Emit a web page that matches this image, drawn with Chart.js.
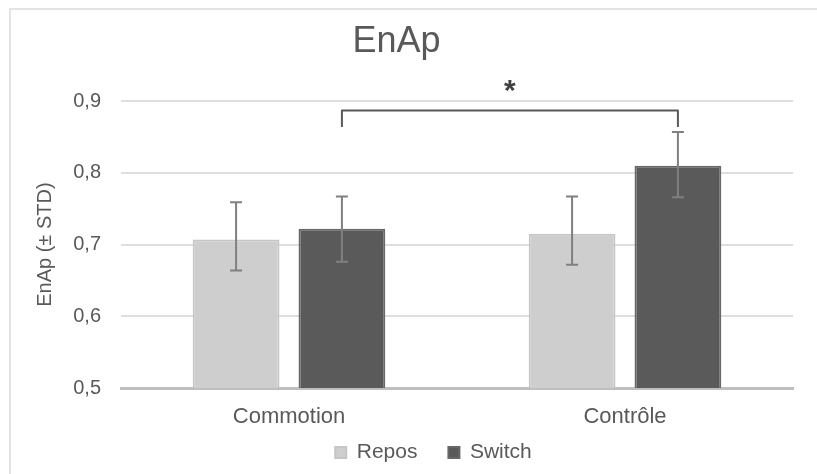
<!DOCTYPE html>
<html>
<head>
<meta charset="utf-8">
<script src="https://cdn.jsdelivr.net/npm/chart.js@4.4.1/dist/chart.umd.min.js"></script>
<style>
  body { margin: 0; background: #fff; }
  #wrap { position: relative; width: 817px; height: 474px; overflow: hidden; }
  #cadre { position: absolute; left: 9px; top: 8px; width: 900px; height: 600px; border: 2px solid #e3e3e3; }
  canvas { position: absolute; left: 0; top: 0; }
</style>
</head>
<body>
<div id="wrap">
  <div id="cadre"></div>
  <canvas id="graphique" width="817" height="474"></canvas>
</div>
<script>
const categories = ['Commotion', 'Contrôle'];
const repos = [0.707, 0.715];
const reposPlus = [0.052, 0.052];
const reposMoins = [0.043, 0.043];
const switchVals = [0.722, 0.810];
const switchPlus = [0.045, 0.047];
const switchMoins = [0.046, 0.044];
const yTickLabels = ['0,5', '0,6', '0,7', '0,8', '0,9'];
// accolade de significativité entre les deux "Switch"
const niveauAccolade = 0.887;
const basAccolade = 0.864;
const niveauEtoile = 0.918;

const police = "'Liberation Sans', Arial, sans-serif";
const gris = '#595959';

const barresErreur = {
  id: 'barresErreur',
  afterLayout(chart) {
    // la légende est décalée vers la droite dans l'original
    chart.legend.left += 37;
    chart.legend.right += 37;
    // l'axe x est plus bas que sa boite : sinon les étiquettes sont coupées
    chart.scales.x.bottom += 40;
  },
  afterDatasetsDraw(chart) {
    const ctx = chart.ctx;
    const y = chart.scales.y;
    const plus = [reposPlus, switchPlus];
    const moins = [reposMoins, switchMoins];
    ctx.save();
    ctx.strokeStyle = '#808080';
    ctx.lineWidth = 2;
    chart.data.datasets.forEach((ds, d) => {
      chart.getDatasetMeta(d).data.forEach((barre, i) => {
        const haut = y.getPixelForValue(ds.data[i] + plus[d][i]);
        const bas = y.getPixelForValue(ds.data[i] - moins[d][i]);
        ctx.beginPath();
        ctx.moveTo(barre.x, haut);
        ctx.lineTo(barre.x, bas);
        ctx.moveTo(barre.x - 6, haut);
        ctx.lineTo(barre.x + 6, haut);
        ctx.moveTo(barre.x - 6, bas);
        ctx.lineTo(barre.x + 6, bas);
        ctx.stroke();
      });
    });

    // accolade
    const sw = chart.getDatasetMeta(1).data;
    const x1 = sw[0].x, x2 = sw[1].x;
    const yA = y.getPixelForValue(niveauAccolade);
    const yB = y.getPixelForValue(basAccolade);
    ctx.strokeStyle = gris;
    ctx.lineJoin = 'round';
    ctx.beginPath();
    ctx.moveTo(x1, yB);
    ctx.lineTo(x1, yA);
    ctx.lineTo(x2, yA);
    ctx.lineTo(x2, yB);
    ctx.stroke();
    ctx.fillStyle = '#404040';
    ctx.font = 'bold 30px ' + police;
    ctx.textAlign = 'center';
    ctx.textBaseline = 'middle';
    ctx.fillText('*', (x1 + x2) / 2, y.getPixelForValue(niveauEtoile) + 3);
    ctx.restore();
  }
};

new Chart(document.getElementById('graphique'), {
  type: 'bar',
  data: {
    labels: categories,
    datasets: [{
      label: 'Repos',
      data: repos,
      backgroundColor: '#cecece',
      borderColor: '#c6c6c6',
      borderWidth: 2,
      categoryPercentage: 0.63,
      barPercentage: 0.82
    }, {
      label: 'Switch',
      data: switchVals,
      backgroundColor: '#5a5a5a',
      borderColor: '#686868',
      borderWidth: 2,
      categoryPercentage: 0.63,
      barPercentage: 0.82
    }]
  },
  plugins: [barresErreur],
  options: {
    responsive: false,
    animation: false,
    layout: { padding: { left: 0, right: 24, top: 0, bottom: 1 } },
    plugins: {
      title: {
        display: true,
        text: 'EnAp',
        color: gris,
        font: { family: police, size: 36, weight: 'normal' },
        padding: { top: 20, bottom: 38 }
      },
      legend: {
        position: 'bottom',
        labels: {
          color: gris,
          font: { family: police, size: 21 },
          boxWidth: 11,
          boxHeight: 11,
          padding: 31
        }
      },
      tooltip: { enabled: false }
    },
    scales: {
      x: {
        afterFit(scale) { scale.height = 23; },
        grid: { display: false },
        border: { color: '#bfbfbf', width: 3 },
        ticks: { color: gris, font: { family: police, size: 22 }, padding: 8 }
      },
      y: {
        min: 0.5,
        max: 0.9,
        afterFit(scale) { scale.width = 121; },
        border: { display: false },
        grid: { color: '#dedede', lineWidth: 2, drawTicks: false },
        ticks: {
          stepSize: 0.1,
          padding: 20,
          color: gris,
          font: { family: police, size: 20 },
          callback: (v, i) => yTickLabels[i]
        },
        title: {
          display: true,
          text: 'EnAp (± STD)',
          color: gris,
          font: { family: police, size: 20 },
          padding: { top: 33, bottom: 0 }
        }
      }
    }
  }
});
</script>
</body>
</html>
